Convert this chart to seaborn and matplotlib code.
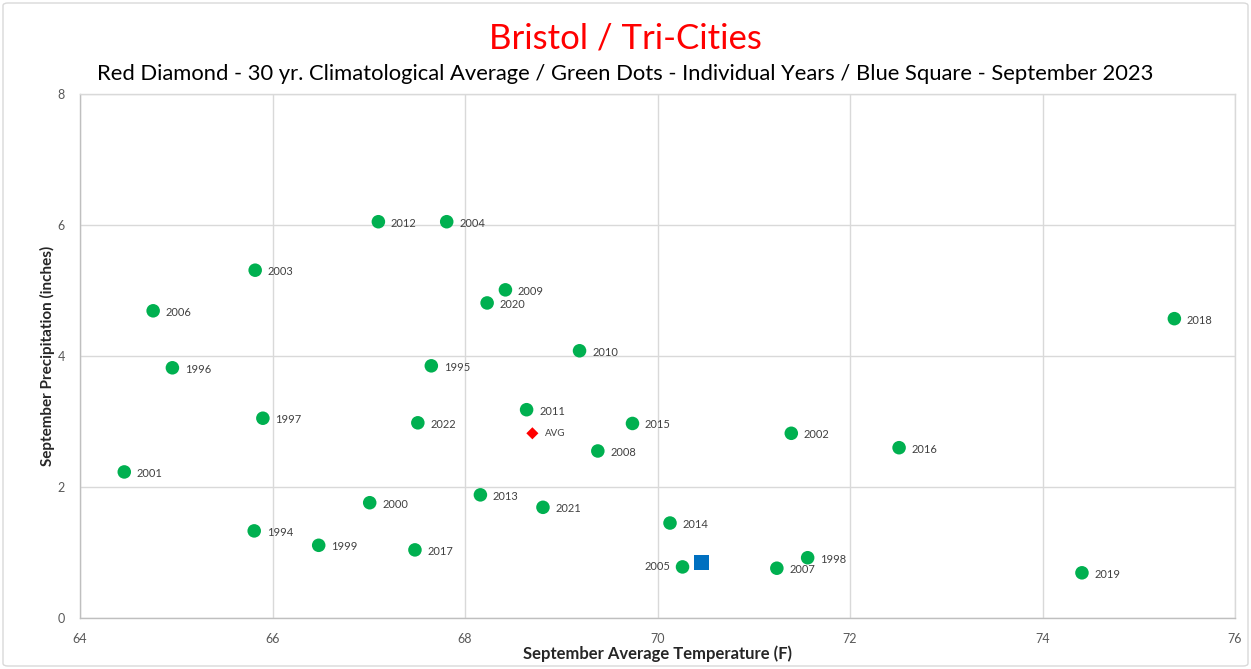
import matplotlib
matplotlib.use("Agg")
import matplotlib.pyplot as plt
import seaborn as sns
import pandas as pd
from matplotlib.patches import FancyBboxPatch

years = ["2012", "2004", "2003", "2006", "2009", "2020", "2018", "2010", "1996", "1995",
         "2011", "1997", "2022", "2015", "2002", "2016", "2008", "2001", "2013", "2000",
         "2021", "2014", "1994", "1999", "2017", "1998", "2005", "2007", "2019"]
temps = [67.10, 67.81, 65.82, 64.76, 68.42, 68.23, 75.37, 69.19, 64.96, 67.65,
         68.64, 65.90, 67.51, 69.74, 71.39, 72.51, 69.38, 64.46, 68.16, 67.01,
         68.81, 70.13, 65.81, 66.48, 67.48, 71.56, 70.26, 71.24, 74.41]
precip = [6.05, 6.05, 5.31, 4.69, 5.01, 4.81, 4.57, 4.08, 3.82, 3.85,
          3.18, 3.05, 2.98, 2.97, 2.82, 2.60, 2.55, 2.23, 1.88, 1.76,
          1.69, 1.45, 1.33, 1.11, 1.04, 0.92, 0.78, 0.76, 0.69]
avg_temp = [68.70]
avg_precip = [2.82]
sep2023_temp = [70.46]
sep2023_precip = [0.85]

sns.set_theme(style="white")
plt.rcParams['font.family'] = ['Lato', 'DejaVu Sans']

fig = plt.figure(figsize=(12.51, 6.69), dpi=100)
ax = fig.add_axes([80/1251, 1 - 618/669, (1235-80)/1251, (618-94)/669])

df = pd.DataFrame({"temp": temps, "precip": precip, "year": years})
sns.scatterplot(data=df, x="temp", y="precip", ax=ax, color="#00B050", s=95,
                edgecolor="none", zorder=3)
sns.scatterplot(x=avg_temp, y=avg_precip, ax=ax, color="#FF0000", marker="D", s=38,
                edgecolor="none", zorder=3)
sns.scatterplot(x=sep2023_temp, y=sep2023_precip, ax=ax, color="#0070C0", marker="s",
                s=120, edgecolor="none", zorder=3)

for t, p, yr in zip(temps, precip, years):
    if yr == "2005":
        ax.annotate(yr, (t, p), xytext=(-9, 0), textcoords="offset points",
                    ha="right", va="center", fontsize=8, color="#404040")
    else:
        ax.annotate(yr, (t, p), xytext=(9, -1), textcoords="offset points",
                    ha="left", va="center", fontsize=8, color="#404040")
ax.annotate("AVG", (avg_temp[0], avg_precip[0]), xytext=(9, 0), textcoords="offset points",
            ha="left", va="center", fontsize=7, color="#404040")

ax.set_xlim(64, 76)
ax.set_ylim(0, 8)
ax.set_xticks(range(64, 77, 2))
ax.set_yticks(range(0, 9, 2))
ax.grid(True, color="#D9D9D9", linewidth=1)
ax.set_axisbelow(True)
for sp in ax.spines.values():
    sp.set_color("#D9D9D9")
    sp.set_linewidth(1)
ax.spines["left"].set_color("#BFBFBF")
ax.spines["bottom"].set_color("#BFBFBF")
ax.tick_params(axis="both", colors="#595959", labelsize=9, length=0, pad=11)

ax.set_xlabel("September Average Temperature (F)", fontsize=12, fontweight="bold",
              color="#262626", labelpad=0)
ax.set_ylabel("September Precipitation (inches)", fontsize=11, fontweight="bold",
              color="#262626", labelpad=2)

fig.text(0.5, 1 - 38/669, "Bristol / Tri-Cities", ha="center", va="center",
         fontsize=25, color="#FF0000")
fig.text(0.5, 1 - 74/669,
         "Red Diamond - 30 yr. Climatological Average / Green Dots - Individual Years / Blue Square - September 2023",
         ha="center", va="center", fontsize=15.8, color="#000000")

border = FancyBboxPatch((3/1251, 3/669), 1245/1251, 663/669,
                        boxstyle="round,pad=0,rounding_size=0.004",
                        transform=fig.transFigure, fill=False,
                        edgecolor="#D9D9D9", linewidth=1)
fig.patches.append(border)

fig.savefig("out.png", dpi=100)
